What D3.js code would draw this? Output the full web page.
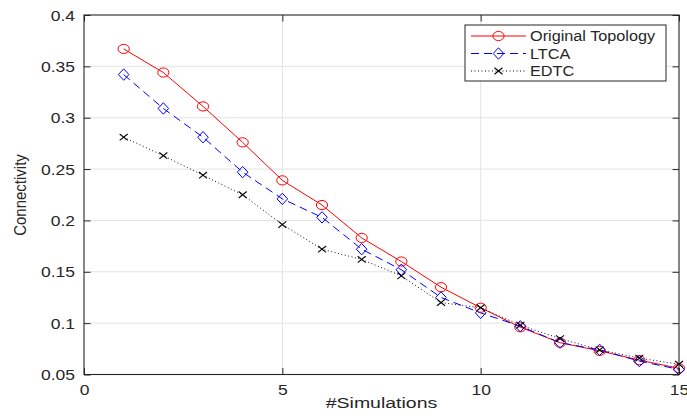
<!DOCTYPE html>
<html>
<head>
<meta charset="utf-8">
<script src="https://cdn.jsdelivr.net/npm/d3@7"></script>
<style>
  html, body { margin: 0; padding: 0; background: #fff; }
  svg { display: block; }
  text { font-family: "Liberation Sans", Arial, Helvetica, sans-serif; fill: #262626; }
</style>
</head>
<body>
<svg id="chart" width="687" height="420"></svg>
<script>
// ---- data ----
const simulations = [1,2,3,4,5,6,7,8,9,10,11,12,13,14,15];
const originalTopology = [0.367,0.344,0.311,0.276,0.239,0.215,0.183,0.160,0.135,0.115,0.096,0.081,0.073,0.064,0.056];
const ltca = [0.342,0.309,0.281,0.247,0.221,0.203,0.172,0.152,0.125,0.110,0.097,0.081,0.074,0.063,0.055];
const edtc = [0.281,0.263,0.244,0.225,0.196,0.172,0.162,0.146,0.120,0.115,0.098,0.085,0.074,0.066,0.060];
const seriesNames = ["Original Topology","LTCA","EDTC"];
const xTicks = [0,5,10,15];
const xTickLabels = ["0","5","10","15"];
const yTicks = [0.05,0.1,0.15,0.2,0.25,0.3,0.35,0.4];
const yTickLabels = ["0.05","0.1","0.15","0.2","0.25","0.3","0.35","0.4"];
const xLabel = "#Simulations";
const yLabel = "Connectivity";

// ---- layout ----
const PL = 84, PR = 679, PT = 15, PB = 374.5;
const svg = d3.select("#chart");
const x = d3.scaleLinear().domain([0,15]).range([PL,PR]);
const y = d3.scaleLinear().domain([0.05,0.4]).range([PB,PT]);
const axisColor = "#262626";
const tickSX = 1.25;

// grid
const grid = svg.append("g");
grid.selectAll("line.gx").data(xTicks.filter(d => d > 0 && d < 15)).join("line")
  .attr("x1", d => x(d)).attr("x2", d => x(d)).attr("y1", PT).attr("y2", PB)
  .attr("stroke", "#e3e3e3").attr("stroke-width", 1);
grid.selectAll("line.gy").data(yTicks.filter(d => d > 0.05 && d < 0.4)).join("line")
  .attr("x1", PL).attr("x2", PR).attr("y1", d => y(d)).attr("y2", d => y(d))
  .attr("stroke", "#e3e3e3").attr("stroke-width", 1);

// series
const series = [
  {name: seriesNames[0], values: originalTopology, color: "#ff0000", dash: null, marker: "circle"},
  {name: seriesNames[1], values: ltca, color: "#0000ff", dash: "8,5", marker: "diamond"},
  {name: seriesNames[2], values: edtc, color: "#111111", dash: "1,2.5", marker: "x"}
];

function drawMarker(g, type, cx, cy, color) {
  if (type === "circle") {
    g.append("ellipse").attr("cx", cx).attr("cy", cy).attr("rx", 5.6).attr("ry", 4.6)
      .attr("fill", "none").attr("stroke", color).attr("stroke-width", 1);
  } else if (type === "diamond") {
    const hw = 5.3, hh = 5.7;
    g.append("path").attr("d", `M${cx},${cy-hh}L${cx+hw},${cy}L${cx},${cy+hh}L${cx-hw},${cy}Z`)
      .attr("fill", "none").attr("stroke", color).attr("stroke-width", 1);
  } else {
    const hw = 4, hh = 3.2;
    g.append("path").attr("d", `M${cx-hw},${cy-hh}L${cx+hw},${cy+hh}M${cx-hw},${cy+hh}L${cx+hw},${cy-hh}`)
      .attr("fill", "none").attr("stroke", "#000").attr("stroke-width", 1.1);
  }
}

const line = d3.line().x((d,i) => x(simulations[i])).y(d => y(d));
const plot = svg.append("g");
series.forEach(s => {
  plot.append("path").datum(s.values).attr("d", line)
    .attr("fill", "none").attr("stroke", s.color).attr("stroke-width", 1)
    .attr("stroke-dasharray", s.dash);
});
series.forEach(s => {
  const g = plot.append("g");
  s.values.forEach((v,i) => drawMarker(g, s.marker, x(simulations[i]), y(v), s.color));
});

// axes
function styleAxis(g) {
  g.select(".domain").remove();
  g.selectAll(".tick line").attr("stroke", axisColor).attr("stroke-width", 1);
}
const leftAx = svg.append("g").attr("transform", `translate(${PL},0)`)
  .call(d3.axisLeft(y).tickValues(yTicks).tickSizeInner(-6.5).tickSizeOuter(0)
    .tickFormat((d,i) => yTickLabels[i]));
styleAxis(leftAx);
leftAx.selectAll(".tick text").attr("x", 0).attr("dy", null)
  .attr("transform", `translate(-9,5) scale(${tickSX},1)`)
  .attr("font-size", 14).attr("fill", axisColor).attr("font-family", null);

const rightAx = svg.append("g").attr("transform", `translate(${PR},0)`)
  .call(d3.axisRight(y).tickValues(yTicks).tickSizeInner(-6.5).tickSizeOuter(0).tickFormat(""));
styleAxis(rightAx);

const bottomAx = svg.append("g").attr("transform", `translate(0,${PB})`)
  .call(d3.axisBottom(x).tickValues(xTicks).tickSizeInner(-6.5).tickSizeOuter(0)
    .tickFormat((d,i) => xTickLabels[i]));
styleAxis(bottomAx);
bottomAx.selectAll(".tick text").attr("y", 0).attr("dy", null)
  .attr("transform", `translate(0,20.5) scale(${tickSX},1)`)
  .attr("font-size", 14).attr("fill", axisColor).attr("font-family", null);

const topAx = svg.append("g").attr("transform", `translate(0,${PT})`)
  .call(d3.axisTop(x).tickValues(xTicks).tickSizeInner(-6.5).tickSizeOuter(0).tickFormat(""));
styleAxis(topAx);

// box
svg.append("rect").attr("x", PL).attr("y", PT).attr("width", PR-PL).attr("height", PB-PT)
  .attr("fill", "none").attr("stroke", axisColor).attr("stroke-width", 1.1);

// axis labels
svg.append("text").text(xLabel)
  .attr("transform", `translate(${(PL+PR)/2},408) scale(1.3,1)`)
  .attr("text-anchor", "middle").attr("font-size", 15);
svg.append("text").text(yLabel)
  .attr("transform", `translate(26,195) scale(1.1,1) rotate(-90)`)
  .attr("text-anchor", "middle").attr("font-size", 15);

// legend
const lg = svg.append("g");
lg.append("rect").attr("x", 465).attr("y", 25).attr("width", 201).attr("height", 56)
  .attr("fill", "#fff").attr("stroke", axisColor).attr("stroke-width", 1);
const rowY = [36, 53.5, 71];
series.forEach((s,i) => {
  const ry = rowY[i];
  lg.append("line").attr("x1", 471).attr("x2", 526).attr("y1", ry).attr("y2", ry)
    .attr("stroke", s.color).attr("stroke-width", 1).attr("stroke-dasharray", s.dash);
  const mg = lg.append("g");
  drawMarker(mg, s.marker, 498.5, ry, s.color);
  lg.append("text").text(s.name)
    .attr("transform", `translate(530,${ry+5}) scale(1.16,1)`)
    .attr("font-size", 14).attr("fill", "#111");
});
</script>
</body>
</html>
